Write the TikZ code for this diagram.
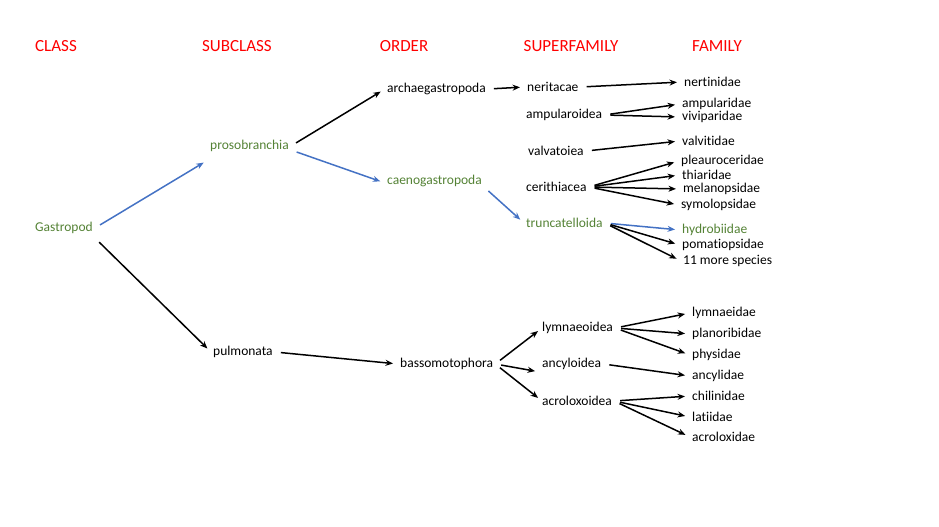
\documentclass[tikz,border=0pt]{standalone}
\usepackage{fontspec}
\setmainfont{Carlito}[Ligatures={NoCommon},RawFeature={-liga}]
\usetikzlibrary{arrows.meta}
\definecolor{hdred}{RGB}{255,0,0}
\definecolor{pathgreen}{RGB}{84,130,53}
\definecolor{pathblue}{RGB}{68,114,196}
\begin{document}
\begin{tikzpicture}[x=1pt,y=-1pt,
  every node/.style={anchor=west,inner sep=2pt,font=\fontsize{13.5}{15}\selectfont},
  hd/.style={anchor=center,text=hdred,font=\fontsize{17}{19}\selectfont},
  gr/.style={text=pathgreen},
  tx/.style={-{Stealth[length=7.5pt,width=6pt]},line width=1.5pt,shorten <=6pt,shorten >=5pt},
  bl/.style={tx,draw=pathblue}]
  \useasboundingbox (0,0) rectangle (939,527);
  \node[hd] (hclass) at (56,46) {CLASS}; \node[hd] (hsub) at (237,46) {SUBCLASS}; \node[hd] (hord) at (404,46) {ORDER};
  \node[hd] (hsup) at (571,46) {SUPERFAMILY}; \node[hd] (hfam) at (717,46) {FAMILY};
  \node[gr] (gas) at (33,228) {Gastropod};
  \node[gr] (pro) at (208,146) {prosobranchia}; \node (pul) at (211,352) {pulmonata};
  \node (arc) at (385,89) {archaegastropoda}; \node[gr] (cae) at (385,181) {caenogastropoda}; \node (bas) at (398,364) {bassomotophora};
  \node (ner) at (525,87) {neritacae}; \node (amp) at (524,115) {ampularoidea}; \node (val) at (526,151) {valvatoiea};
  \node (cer) at (524,187) {cerithiacea}; \node[gr] (tru) at (524,223) {truncatelloida};
  \node (lym) at (540,328) {lymnaeoidea}; \node (anc) at (540,364) {ancyloidea}; \node (acr) at (540,401) {acroloxoidea};
  \node (nrt) at (682,82) {nertinidae}; \node (ampd) at (680,104) {ampularidae}; \node (viv) at (680,117) {viviparidae};
  \node (vlt) at (680,141) {valvitidae}; \node (ple) at (679,161) {pleauroceridae}; \node (thi) at (680,175) {thiaridae};
  \node (mel) at (681,189) {melanopsidae}; \node (sym) at (679,205) {symolopsidae};
  \node[gr] (hyd) at (680,230) {hydrobiidae}; \node (pom) at (680,245) {pomatiopsidae}; \node (mor) at (681,261) {11 more species};
  \node (lymd) at (690,313) {lymnaeidae}; \node (pla) at (690,334) {planoribidae}; \node (phy) at (690,355) {physidae};
  \node (ancd) at (690,376) {ancylidae}; \node (chi) at (690,396) {chilinidae}; \node (lat) at (690,417) {latiidae}; \node (acrd) at (690,437) {acroloxidae};
  \draw[bl] (gas.east) -- ([yshift=-14pt]pro.west); \draw[tx] ([yshift=-10pt]gas.east) -- (pul.west);
  \draw[tx] (pro.east) -- (arc.west); \draw[bl] ([yshift=-4pt]pro.east) -- ([yshift=-2pt]cae.west);
  \draw[tx] (pul.east) -- (bas.west);
  \draw[tx] (arc.east) -- (ner.west); \draw[bl] ([yshift=-6pt]cae.east) -- (tru.west);
  \draw[tx] (bas.east) -- ([xshift=2pt]lym.west); \draw[tx] (bas.east) -- ([yshift=-8pt]anc.west); \draw[tx] (bas.east) -- ([xshift=2pt]acr.west);
  \draw[tx] (ner.east) -- (nrt.west);
  \foreach \t in {ampd,viv} \draw[tx] (amp.east) -- (\t.west);
  \draw[tx] (val.east) -- (vlt.west);
  \foreach \t in {ple,thi,mel,sym} \draw[tx] (cer.east) -- (\t.west);
  \draw[bl] (tru.east) -- (hyd.west); \foreach \t in {pom,mor} \draw[tx] (tru.east) -- (\t.west);
  \foreach \t in {lymd,pla,phy} \draw[tx] (lym.east) -- (\t.west);
  \draw[tx] (anc.east) -- (ancd.west);
  \foreach \t in {chi,lat,acrd} \draw[tx] (acr.east) -- (\t.west);
\end{tikzpicture}
\end{document}
